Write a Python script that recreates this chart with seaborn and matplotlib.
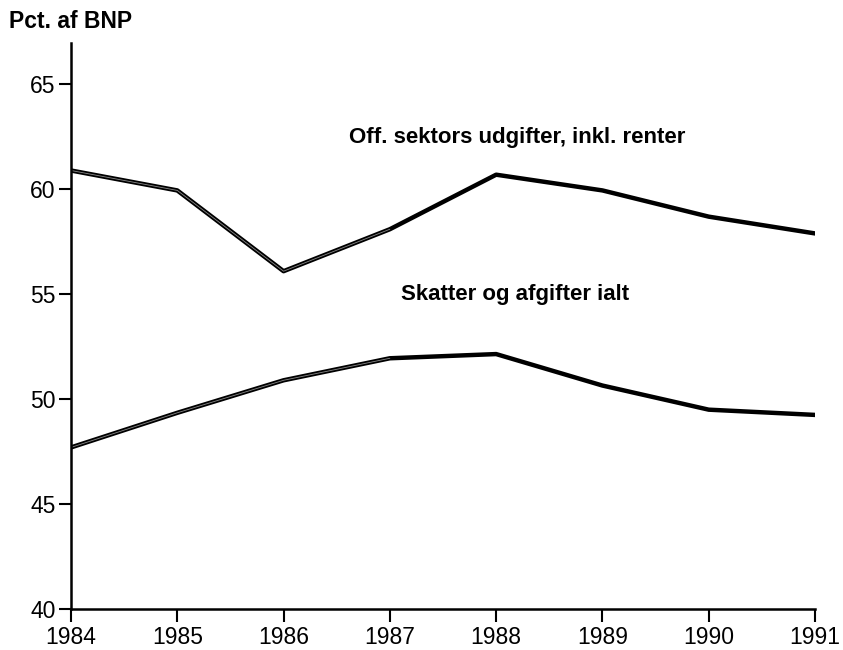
import pandas as pd
import matplotlib
matplotlib.use('Agg')
import matplotlib.pyplot as plt
import seaborn as sns

years = [1984, 1985, 1986, 1987, 1988, 1989, 1990, 1991]
udgifter = [60.9, 59.95, 56.1, 58.1, 60.7, 59.95, 58.7, 57.9]
skatter = [47.7, 49.35, 50.9, 51.95, 52.15, 50.65, 49.5, 49.25]
yticks = [40, 45, 50, 55, 60, 65]

sns.set_style('ticks')
plt.rcParams['font.family'] = ['Liberation Sans', 'DejaVu Sans']
plt.rcParams['text.color'] = 'black'

df = pd.DataFrame({'year': years, 'udgifter': udgifter, 'skatter': skatter})

fig = plt.figure(figsize=(8.43, 6.5), dpi=100)
ax = fig.add_axes([0.0842, 0.0631, 0.8826, 0.8715])

for col in ['udgifter', 'skatter']:
    sns.lineplot(data=df, x='year', y=col, ax=ax, color='black', lw=3.2)
    # scanned look: lighter core on the first years
    early = df[df['year'] <= 1987]
    sns.lineplot(data=early, x='year', y=col, ax=ax, color='#8a8a8a', lw=0.6)

ax.set_xlim(1984, 1991)
ax.set_ylim(40, 67)
ax.set_xticks(years)
ax.set_yticks(yticks)
ax.set_xlabel('')
ax.set_ylabel('')
ax.tick_params(axis='both', colors='black', labelsize=16.5, width=1.5)
ax.tick_params(axis='x', length=9, pad=3)
ax.tick_params(axis='y', length=9, pad=2)
sns.despine(ax=ax)
for s in ['left', 'bottom']:
    ax.spines[s].set_color('black')
    ax.spines[s].set_linewidth(1.8)

ax.text(1988.2, 62.45, 'Off. sektors udgifter, inkl. renter', ha='center', va='center',
        fontsize=16, fontweight='bold', color='black')
ax.text(1988.18, 55.0, 'Skatter og afgifter ialt', ha='center', va='center',
        fontsize=16, fontweight='bold', color='black')
fig.text(9 / 843, 1 - 22 / 650, 'Pct. af BNP', ha='left', va='center',
         fontsize=16.5, fontweight='bold', color='black')

fig.savefig('out.png', dpi=100)
